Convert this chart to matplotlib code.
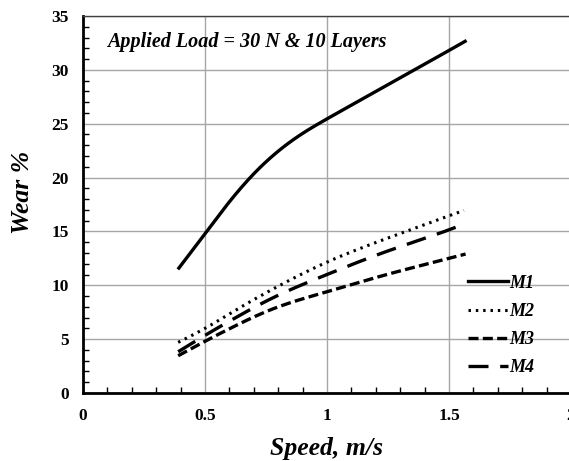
import matplotlib
matplotlib.use("Agg")
import matplotlib.pyplot as plt
import numpy as np
from matplotlib.ticker import MultipleLocator

# Data
m1_x = [0.393, 0.5, 0.6, 0.7, 0.8, 0.9, 1.0, 1.3, 1.566]
m1_y = [11.6, 14.8, 17.75, 20.35, 22.45, 24.1, 25.45, 29.25, 32.65]

m2_x = [0.39, 0.5, 0.63, 0.766, 1.0, 1.245, 1.5, 1.561]
m2_y = [4.7, 6.0, 7.75, 9.5, 12.15, 14.35, 16.45, 16.95]

m3_x = [0.39, 0.5, 0.63, 0.766, 1.0, 1.245, 1.5, 1.568]
m3_y = [3.46, 4.8, 6.3, 7.7, 9.4, 11.0, 12.5, 12.9]

m4_x = [0.39, 0.5, 0.63, 0.766, 1.0, 1.245, 1.5, 1.552]
m4_y = [3.83, 5.35, 7.05, 8.7, 11.0, 13.15, 15.15, 15.6]

series_labels = ["M1", "M2", "M3", "M4"]
x_ticks = [0, 0.5, 1, 1.5, 2]
x_tick_labels = ["0", "0.5", "1", "1.5", "2"]
y_ticks = [0, 5, 10, 15, 20, 25, 30, 35]

serif = ["Liberation Serif", "DejaVu Serif"]


def smooth(x, y, n=300):
    """Natural cubic spline through the read points."""
    x = np.asarray(x, float); y = np.asarray(y, float)
    k = len(x); h = np.diff(x)
    A = np.zeros((k, k)); b = np.zeros(k)
    A[0, 0] = 1; A[-1, -1] = 1
    for i in range(1, k - 1):
        A[i, i - 1] = h[i - 1]; A[i, i] = 2 * (h[i - 1] + h[i]); A[i, i + 1] = h[i]
        b[i] = 6 * ((y[i + 1] - y[i]) / h[i] - (y[i] - y[i - 1]) / h[i - 1])
    M = np.linalg.solve(A, b)
    xs = np.linspace(x[0], x[-1], n)
    idx = np.clip(np.searchsorted(x, xs) - 1, 0, k - 2)
    x0 = x[idx]; x1 = x[idx + 1]; hh = h[idx]
    ys = (M[idx] * (x1 - xs) ** 3 / (6 * hh) + M[idx + 1] * (xs - x0) ** 3 / (6 * hh)
          + (y[idx] / hh - M[idx] * hh / 6) * (x1 - xs)
          + (y[idx + 1] / hh - M[idx + 1] * hh / 6) * (xs - x0))
    return xs, ys


fig = plt.figure(figsize=(5.69, 4.61), dpi=100)
ax = fig.add_axes([83/569, (461-393)/461, 488/569, 377/461])

styles = [
    dict(linestyle="-", linewidth=2.4),
    dict(linestyle=(0, (0.8, 1.6)), linewidth=2.2),
    dict(linestyle=(0, (3, 1.3)), linewidth=2.4),
    dict(linestyle=(0, (6, 3.5)), linewidth=2.4),
]
for (xx, yy), lab, st in zip([(m1_x, m1_y), (m2_x, m2_y), (m3_x, m3_y), (m4_x, m4_y)],
                              series_labels, styles):
    xs, ys = smooth(xx, yy)
    ax.plot(xs, ys, color="black", label=lab, **st)

ax.set_xlim(0, 2)
ax.set_ylim(0, 35)
ax.set_xticks(x_ticks)
ax.set_xticklabels(x_tick_labels)
ax.set_yticks(y_ticks)
ax.xaxis.set_minor_locator(MultipleLocator(0.1))
ax.yaxis.set_minor_locator(MultipleLocator(1))
ax.grid(True, which="major", color="#a6a6a6", linewidth=1.0)
ax.set_axisbelow(True)

ax.tick_params(axis="both", which="major", direction="in", length=0)
ax.tick_params(axis="y", which="major", pad=10)
ax.tick_params(axis="x", which="major", pad=10.5)
ax.tick_params(axis="both", which="minor", direction="in", length=4, width=1, color="black")
for lbl in ax.get_xticklabels() + ax.get_yticklabels():
    lbl.set_fontfamily(serif)
    lbl.set_fontweight("bold")
    lbl.set_fontsize(12.5)

for side in ["left", "bottom"]:
    ax.spines[side].set_linewidth(2.0)
    ax.spines[side].set_color("black")
ax.spines["top"].set_linewidth(1.0)
ax.spines["top"].set_color("#404040")
ax.spines["right"].set_visible(False)

ax.set_xlabel("Speed, m/s", fontfamily=serif, fontweight="bold", fontstyle="italic",
              fontsize=18.5, labelpad=10)
ax.set_ylabel("Wear %", fontfamily=serif, fontweight="bold", fontstyle="italic",
              fontsize=18.5)
ax.yaxis.set_label_coords(-0.10, (393-192)/377)

ax.text((107-83)/488, (393-42)/377, "Applied Load = 30 N & 10 Layers", transform=ax.transAxes,
        fontfamily=serif, fontweight="bold", fontstyle="italic", fontsize=14.5,
        va="center", ha="left")

leg = ax.legend(loc="center left", bbox_to_anchor=(468/569, 1 - 325.5/461),
                bbox_transform=fig.transFigure, frameon=False,
                borderpad=0, borderaxespad=0,
                handlelength=2.2, handletextpad=0.1, labelspacing=0.62,
                prop=dict(family=serif, weight="bold", style="italic", size=13))

fig.savefig("out.png", dpi=100)
